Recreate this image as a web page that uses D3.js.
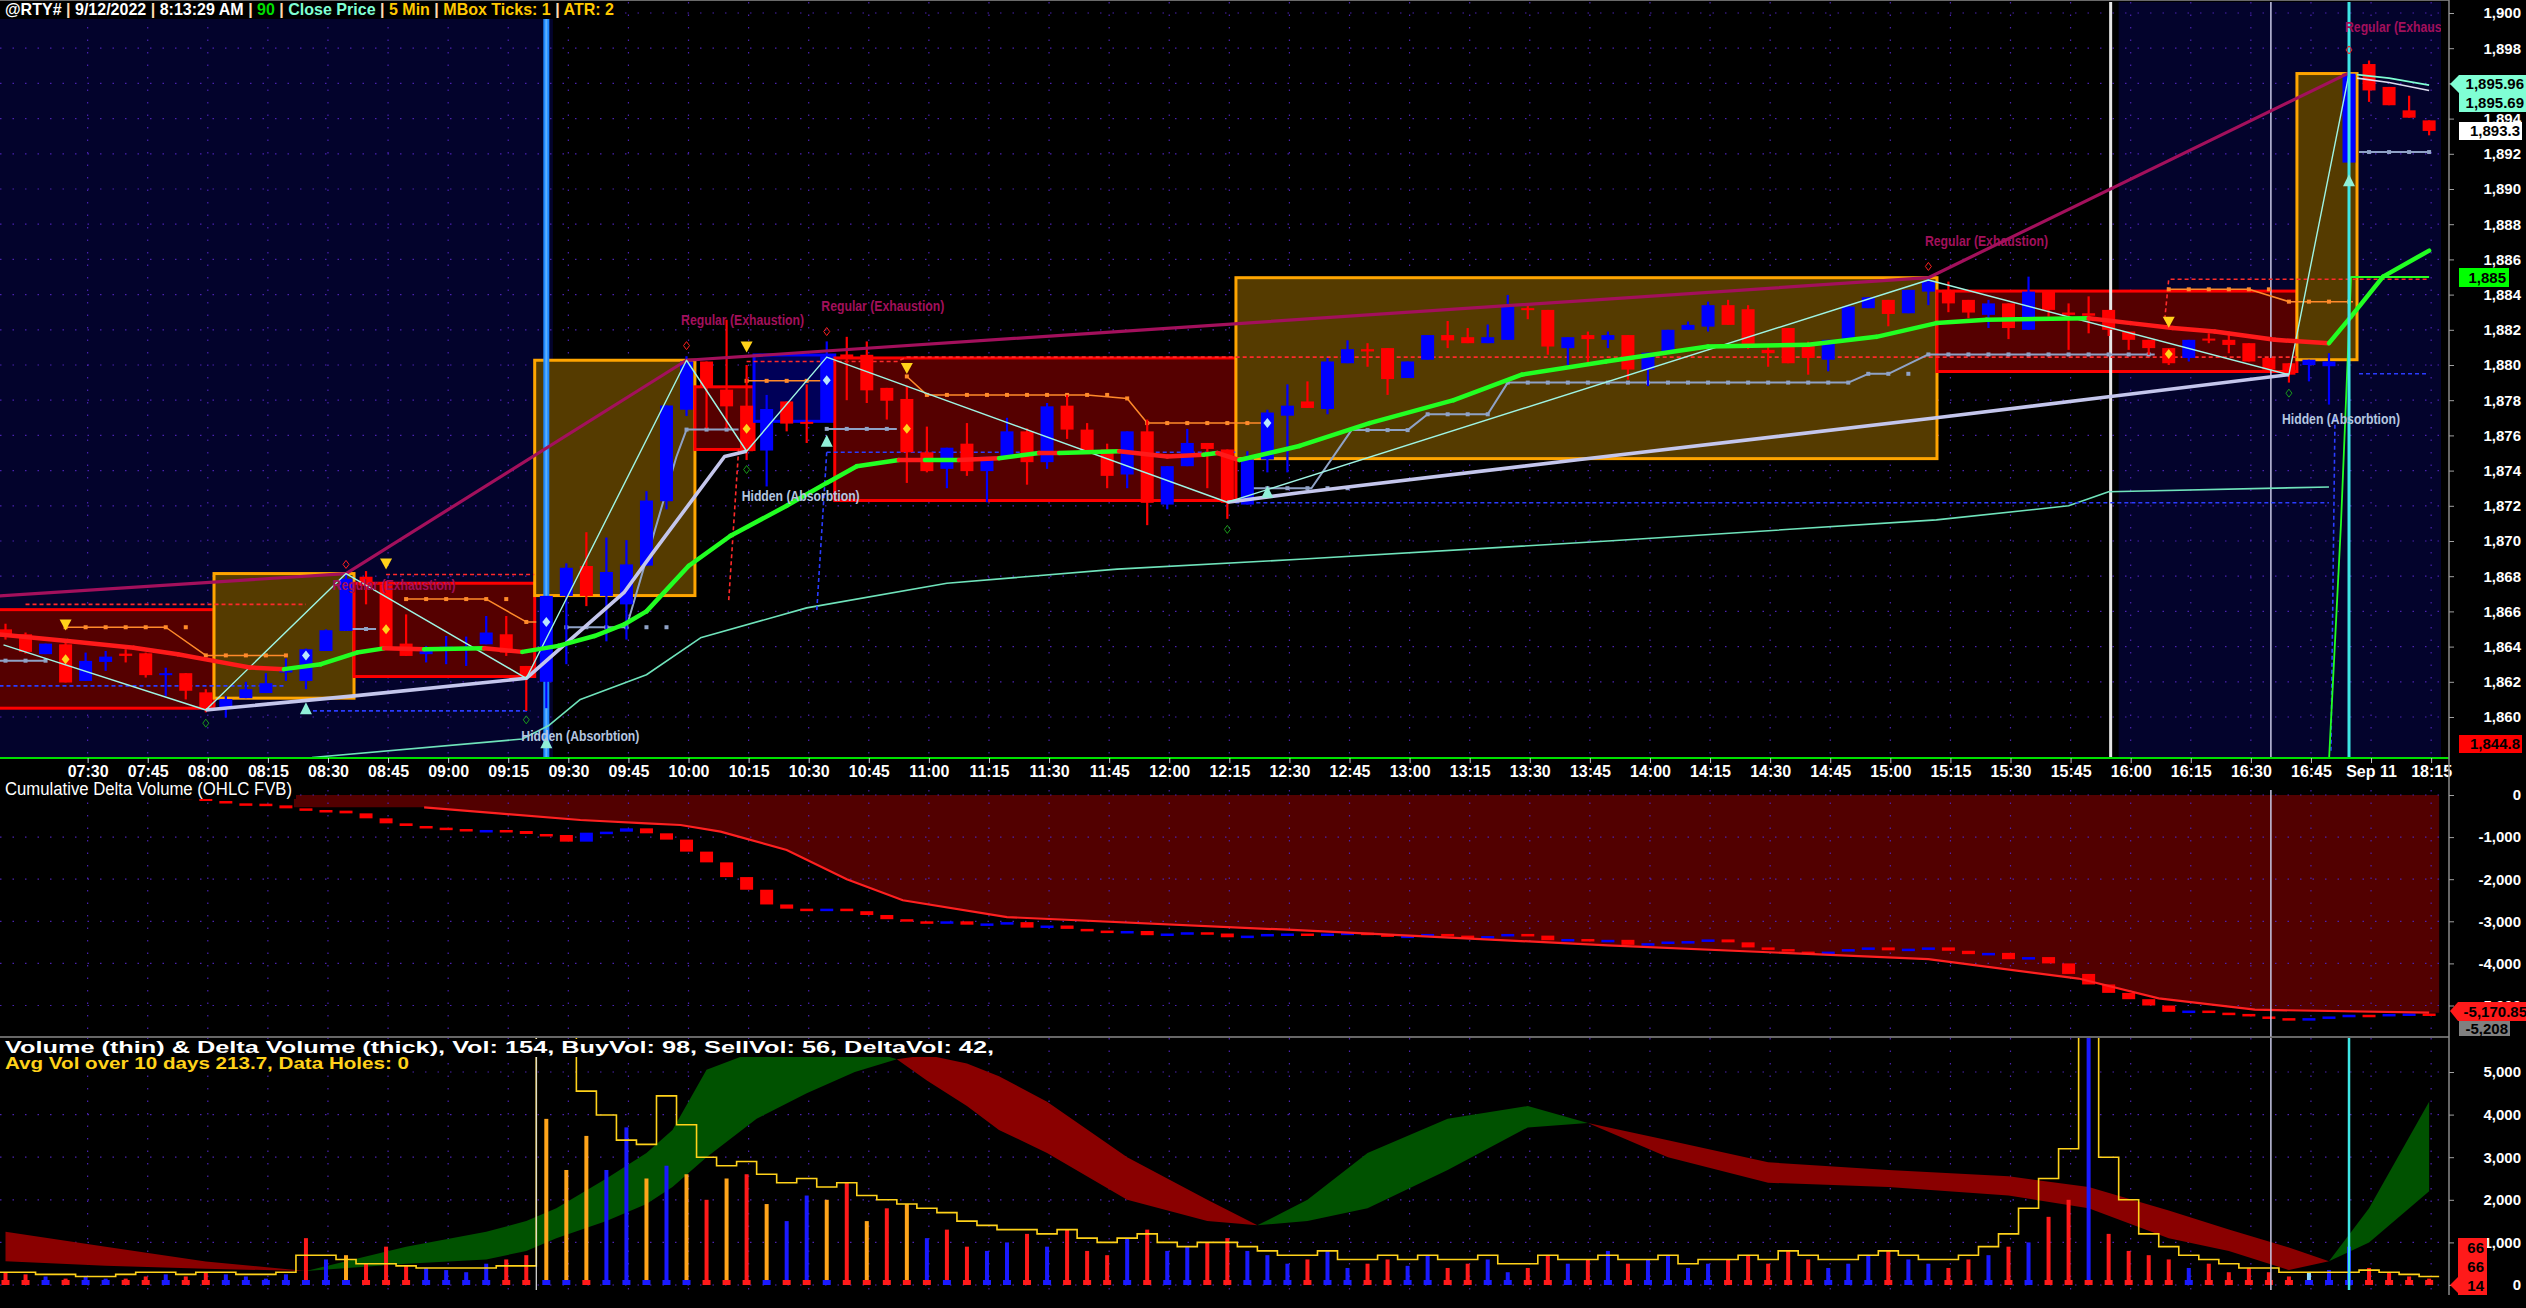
<!DOCTYPE html>
<html><head><meta charset="utf-8">
<script src="https://cdn.jsdelivr.net/npm/d3@7"></script>
<style>body{margin:0;background:#000;overflow:hidden}svg{display:block}</style>
</head><body>
<svg id="c" width="2526" height="1308"></svg>
<script>
// ---------------- DATA ----------------
const tickLabels = ["07:30","07:45","08:00","08:15","08:30","08:45","09:00","09:15","09:30","09:45","10:00","10:15","10:30","10:45","11:00","11:15","11:30","11:45","12:00","12:15","12:30","12:45","13:00","13:15","13:30","13:45","14:00","14:15","14:30","14:45","15:00","15:15","15:30","15:45","16:00","16:15","16:30","16:45","Sep 11","18:15"];
const tickIdx = [4,7,10,13,16,19,22,25,28,31,34,37,40,43,46,49,52,55,58,61,64,67,70,73,76,79,82,85,88,91,94,97,100,103,106,109,112,115,118,121];
const priceTicks = [1860,1862,1864,1866,1868,1870,1872,1874,1876,1878,1880,1882,1884,1886,1888,1890,1892,1894,1896,1898,1900];
const cdTicks = [0,-1000,-2000,-3000,-4000,-5000];
const volTicks = [0,1000,2000,3000,4000,5000];

const opens  = [1864.98,1864.7,1863.57,1864.13,1862.05,1863.13,1863.6,1863.62,1862.38,1862.49,1861.4,1860.54,1861.07,1861.36,1862.53,1862.05,1863.75,1864.89,1867.97,1867.53,1864.17,1863.57,1863.85,1863.85,1864.13,1864.7,1862.9,1862.0,1866.88,1868.58,1866.88,1866.4,1868.6,1872.26,1877.46,1880.2,1878.6,1877.69,1875.14,1877.93,1876.77,1876.8,1880.6,1880.58,1878.7,1878.07,1875.04,1874.1,1875.53,1873.97,1874.78,1876.23,1874.48,1877.69,1876.33,1875.2,1873.78,1876.23,1872.07,1874.25,1875.57,1875.2,1872.07,1874.63,1877.12,1877.93,1877.5,1880.1,1880.9,1880.96,1879.26,1880.3,1881.7,1881.58,1881.24,1881.43,1883.23,1883.13,1880.96,1881.7,1881.43,1881.7,1879.74,1880.67,1882.0,1882.18,1883.4,1883.17,1880.86,1882.1,1881.14,1880.3,1881.43,1883.23,1883.7,1882.94,1884.17,1884.27,1883.7,1882.85,1883.5,1882.0,1884.17,1882.98,1882.94,1883.13,1881.9,1881.43,1880.96,1880.4,1881.5,1881.43,1881.24,1880.4,1880.1,1880.0,1879.93,1891.5,1897.1,1895.8,1894.47,1893.9];
const highs  = [1865.3,1864.8,1864.17,1864.3,1863.66,1863.75,1863.85,1863.66,1862.8,1862.49,1861.58,1861.2,1862.0,1862.49,1863.32,1863.89,1864.98,1868.1,1868.29,1867.72,1865.83,1864.04,1864.6,1864.57,1865.74,1865.74,1862.9,1866.88,1868.73,1870.5,1870.2,1870.05,1872.83,1877.7,1880.5,1880.2,1882.57,1880.0,1878.3,1877.93,1878.9,1881.34,1881.6,1881.34,1878.7,1878.8,1876.5,1875.3,1876.7,1874.78,1877.0,1876.4,1877.84,1878.3,1876.7,1875.53,1876.23,1876.9,1874.25,1876.37,1875.57,1875.2,1875.1,1877.46,1878.9,1879.07,1880.4,1881.4,1881.24,1880.96,1880.2,1881.7,1882.5,1882.1,1882.3,1883.98,1883.5,1883.13,1881.58,1881.9,1881.9,1881.7,1880.7,1882.0,1882.47,1883.6,1883.7,1883.4,1881.14,1882.1,1881.33,1881.43,1883.32,1883.85,1883.7,1884.27,1885.02,1884.74,1883.7,1883.7,1883.5,1885.02,1884.17,1883.5,1883.9,1883.13,1881.9,1881.43,1880.96,1881.43,1881.8,1881.9,1881.24,1880.4,1880.1,1880.3,1880.67,1896.65,1897.3,1895.8,1895.3,1893.9];
const lows   = [1864.4,1863.6,1863.57,1861.96,1862.05,1862.62,1863.1,1862.24,1861.2,1861.0,1860.26,1859.97,1861.07,1861.36,1862.05,1861.58,1863.75,1864.89,1866.4,1863.85,1863.47,1863.1,1863.0,1862.9,1864.13,1863.47,1860.35,1860.5,1863.0,1866.3,1864.3,1864.4,1868.6,1871.8,1877.1,1876.4,1876.4,1874.6,1873.1,1876.23,1875.57,1876.8,1878.0,1877.84,1876.9,1873.3,1873.9,1873.0,1873.7,1872.2,1874.78,1873.2,1874.1,1875.8,1875.04,1873.0,1873.0,1870.9,1871.8,1874.25,1873.0,1871.26,1872.07,1873.9,1873.9,1877.56,1877.2,1880.1,1879.9,1878.3,1879.26,1880.3,1880.96,1881.24,1881.24,1881.43,1882.6,1880.58,1880.0,1880.0,1880.96,1879.17,1878.8,1880.67,1882.0,1881.9,1882.28,1880.9,1879.9,1880.1,1879.45,1879.64,1881.43,1883.23,1882.2,1882.94,1883.4,1883.0,1882.66,1882.1,1881.47,1882.0,1882.75,1880.86,1881.8,1881.65,1880.86,1880.58,1880.0,1880.2,1881.24,1880.67,1880.2,1879.74,1879.0,1879.07,1877.75,1891.5,1894.95,1894.76,1894.05,1893.05];
const closes = [1864.57,1863.7,1864.17,1861.96,1863.19,1863.43,1863.47,1862.38,1862.49,1861.49,1860.45,1861.02,1861.58,1861.92,1862.75,1863.85,1864.93,1867.86,1867.44,1863.94,1863.47,1863.75,1864.0,1864.0,1864.8,1863.66,1862.3,1866.88,1868.48,1866.88,1868.24,1868.67,1872.3,1877.7,1880.2,1878.75,1877.65,1875.1,1877.5,1876.67,1876.75,1880.5,1880.4,1878.56,1877.97,1875.04,1873.97,1875.3,1873.97,1874.78,1876.23,1874.48,1877.65,1876.33,1875.04,1873.7,1876.23,1872.17,1874.25,1875.57,1875.23,1872.17,1874.63,1877.3,1877.69,1877.56,1880.2,1880.9,1880.77,1879.2,1880.2,1881.7,1881.4,1881.24,1881.58,1883.4,1883.13,1881.05,1881.58,1881.47,1881.7,1879.74,1880.7,1882.0,1882.28,1883.4,1882.28,1881.05,1880.67,1880.1,1880.4,1881.43,1883.32,1883.85,1882.9,1884.27,1884.74,1883.5,1882.98,1883.5,1882.1,1884.17,1883.13,1882.85,1882.8,1882.0,1881.43,1880.96,1880.1,1881.43,1881.4,1881.14,1880.2,1879.74,1879.45,1880.3,1880.2,1896.55,1895.6,1894.76,1894.05,1893.3];

const boxLeft   = [-0.4,10.41,17.4,26.42,34.42,37.37,41.4,61.43,96.43,114.4];
const boxRight  = [10.41,17.4,26.42,34.42,37.37,41.4,61.43,96.43,114.4,117.4];
const boxTop    = [1866.1,1868.15,1867.6,1880.27,1878.76,1880.57,1880.4,1884.96,1884.2,1896.56];
const boxBottom = [1860.5,1861.07,1862.3,1866.9,1875.2,1876.8,1872.3,1874.68,1879.63,1880.3];
const boxKind   = ["r","o","r","o","r","b","r","o","r","o"];

const maLine = [[-0.4,1864.7,"r"],[3.1,1864.32,"r"],[6.4,1863.94,"r"],[8.6,1863.57,"r"],[10.4,1863.19,"r"],[12.2,1862.81,"r"],[13.9,1862.72,"g"],[15.75,1863.0,"g"],[17.55,1863.66,"g"],[18.9,1863.9,"r"],[20.9,1863.85,"g"],[23.9,1863.9,"r"],[25.8,1863.7,"g"],[27.6,1864.04,"g"],[29.4,1864.6,"g"],[30.9,1865.27,"g"],[32.0,1866.0,"g"],[34.1,1868.58,"g"],[36.2,1870.3,"g"],[39.0,1872.0,"g"],[41.0,1873.3,"g"],[42.5,1874.25,"g"],[44.6,1874.6,"r"],[45.9,1874.6,"g"],[47.6,1874.6,"r"],[49.6,1874.7,"g"],[51.6,1875.0,"r"],[52.6,1875.0,"g"],[55.6,1875.1,"r"],[58.0,1874.8,"r"],[59.8,1874.9,"g"],[60.5,1875.0,"r"],[61.6,1874.6,"g"],[64.6,1875.4,"g"],[68.1,1876.7,"g"],[72.3,1878.0,"g"],[75.7,1879.45,"g"],[79.9,1880.2,"g"],[85.0,1881.05,"g"],[90.0,1881.15,"g"],[93.4,1881.6,"g"],[96.4,1882.38,"g"],[98.9,1882.57,"g"],[104.0,1882.66,"r"],[106.1,1882.38,"r"],[108.2,1882.1,"r"],[110.3,1881.9,"r"],[113.3,1881.43,"r"],[116.0,1881.24,"g"],[117.1,1882.75,"g"],[118.7,1885.02,"g"],[121.0,1886.5,"g"]];
const purpleLine = [[-0.4,1866.87],[17,1868.15],[34,1880.27],[96,1884.96],[117,1896.6]];
const lavenderA = [[10,1860.4],[17.4,1861.2],[26,1862.2],[27.8,1864.0],[30.9,1867.1],[32.3,1869.3],[35.9,1874.8],[37,1875.1]];
const lavenderB = [[61,1872.2],[64.6,1872.74],[78.6,1874.63],[96.4,1877.0],[105,1878.2],[114,1879.45]];
const zigzag = [[-0.1,1864.1],[10,1860.4],[17,1868.15],[26,1862.2],[34,1880.27],[37,1875.1],[41,1880.45],[61,1872.2],[96,1884.83],[114,1879.45],[117,1896.55]];
const aquaLow = [[15.3,1857.7],[25.8,1858.75],[27.1,1859.5],[28.7,1861.0],[32,1862.4],[34.7,1864.5],[40,1866.2],[47,1867.6],[55.5,1868.4],[64.6,1868.96],[80,1870.0],[96.4,1871.2],[103,1872.0],[105,1872.8],[116,1873.07]];
const aquaTop = [[117.4,1896.5],[119,1896.3],[121,1895.9]];
const whiteTop = [[117.4,1896.3],[119,1896.05],[121,1895.6]];
const greenRight = [[116,1857.5],[116.6,1871],[117.1,1885.0],[121,1885.0]];
const orangeSteps = [
  [[3,1865.1],[8,1865.1],[10,1863.5],[14,1863.5]],
  [[20,1866.7],[24,1866.7],[26,1865.4],[26.5,1865.4]],
  [[37,1879.1],[41,1879.1]],
  [[45,1879.35],[46,1878.3],[54,1878.3],[56,1878.1],[57,1876.7],[63,1876.7]],
  [[108,1884.3],[112,1884.3],[114,1883.6],[117.2,1883.6]]
];
const greySteps = [
  [[-0.3,1863.2],[2,1863.2]],
  [[17,1865.0],[18.5,1865.0]],
  [[28,1865.1],[31,1865.1],[33.5,1874.8],[34,1876.33],[36.6,1876.33]],
  [[41,1876.37],[44.5,1876.37]],
  [[62.2,1873.0],[65.2,1873.0],[67.2,1876.3],[70,1876.3],[71,1877.2],[74,1877.2],[75,1879.0],[92,1879.0],[93,1879.5],[94,1879.5],[96,1880.6],[107.3,1880.6]],
  [[117.5,1892.1],[121,1892.1]]
];
const redDashed = [
  [[1,1866.4],[15,1866.4]],
  [[19,1868.1],[26.4,1868.1]],
  [[37,1880.2],[44.5,1880.2],[45,1880.45],[114.5,1880.45]],
  [[36.6,1875.2],[36.1,1866.5]],
  [[107.8,1882.6],[108,1884.87],[121,1884.87]]
];
const blueDashed = [
  [[-0.3,1861.77],[14,1861.77]],
  [[15,1860.35],[26.2,1860.35]],
  [[41,1875.04],[61.4,1875.04]],
  [[41,1875.04],[40.5,1866]],
  [[61.4,1872.17],[116,1872.17]],
  [[116.3,1877.0],[116.1,1858]],
  [[117.5,1879.5],[121,1879.5]]
];
const yellowDown = [[3,1865.2],[19,1868.67],[37,1881.0],[45,1879.77],[108,1882.4]];
const cyanUp = [[15,1860.5],[27,1858.56],[41,1875.7],[63,1872.8],[117,1890.5]];
const yellowDiamond = [[3,1863.28],[19,1864.98],[37,1876.38],[45,1876.38],[108,1880.62]];
const blueDiamond = [[15,1863.5],[27,1865.4],[41,1879.13],[63,1876.7]];
const redRing = [[17,1868.67],[34,1881.1],[41,1881.9],[96,1885.6],[117,1897.9]];
const greenRing = [[10,1859.65],[26,1859.84],[37,1874.06],[61,1870.66],[114,1878.4]];
const regularText = [[19.4,1867.5,"middle"],[36.8,1882.56,"middle"],[43.8,1883.35,"middle"],[98.9,1887.05,"middle"],[116.8,1899.2,"start"]];
const hiddenText = [[28.7,1858.94],[39.7,1872.56],[116.6,1876.93]];
const sessionShade = [[-0.4,27.33],[105.5,121.6]];

// cumulative delta closes (bars 4..121)
const cdClose = [null,null,null,null,-25,-35,-28,-45,-38,-60,
 -143,-198,-206,-246,-317,-356,-372,-436,-554,-673,
 -736,-776,-808,-831,-831,-855,-926,-950,-1108,-895,
 -871,-792,-910,-1060,-1345,-1600,-1950,-2250,-2600,-2700,
 -2750,-2700,-2760,-2850,-2950,-3000,-3050,-3000,-3080,-3050,
 -3020,-3150,-3100,-3180,-3220,-3280,-3230,-3330,-3290,-3260,
 -3290,-3380,-3340,-3300,-3290,-3320,-3290,-3270,-3300,-3370,
 -3340,-3300,-3340,-3380,-3350,-3300,-3340,-3450,-3420,-3470,
 -3440,-3560,-3520,-3480,-3470,-3430,-3500,-3620,-3660,-3720,
 -3760,-3720,-3660,-3620,-3690,-3650,-3620,-3700,-3780,-3750,
 -3900,-3850,-4000,-4250,-4500,-4700,-4850,-5000,-5150,-5120,
 -5170,-5200,-5260,-5300,-5350,-5300,-5260,-5220,-5230,-5200,
 -5190,-5208];
const cdFirstOpen = -10;
const cdMA = [[20.9,-293],[24.6,-435],[28.7,-594],[32,-673],[33.7,-713],[35.7,-871],[39,-1306],[42,-2000],[44.8,-2500],[50,-2900],[64,-3200],[80,-3570],[96,-3900],[103.5,-4360],[107.5,-4830],[112.3,-5100],[121,-5170.85]];
const cdFillStart = 14.4;

// volume panel
const volume = [300,250,200,150,200,150,150,200,250,200,
 300,250,200,150,250,1100,600,700,500,900,
 450,400,350,300,500,600,700,3900,2700,3500,
 2700,3700,2500,2800,2600,2000,2500,2600,1900,1500,
 2100,2000,2400,1500,1800,1900,1100,1300,900,800,
 1000,1200,900,1300,800,700,1100,1300,800,900,
 1000,1100,800,700,500,600,800,400,500,600,
 450,700,400,500,600,300,400,700,500,600,
 800,500,600,700,400,500,600,700,500,800,
 600,400,500,700,800,600,500,400,600,700,
 900,1000,1600,2000,5900,1200,800,700,600,400,
 500,300,400,300,200,300,350,900,400,300,
 200,150];
const volColor = ["r","r","b","r","b","b","r","r","b","r",
 "r","b","b","b","b","r","b","o","r","r",
 "r","b","b","b","b","r","r","o","o","o",
 "b","b","o","b","o","r","o","r","o","b",
 "b","o","r","o","r","o","b","r","r","b",
 "b","r","b","r","r","r","b","r","b","b",
 "r","r","b","b","b","r","b","b","r","r",
 "b","b","r","r","b","b","r","r","b","r",
 "b","r","b","b","b","b","r","r","r","r",
 "r","b","b","b","r","b","b","r","r","b",
 "r","b","r","r","b","r","r","r","r","b",
 "r","r","r","r","r","c","b","b","r","r",
 "r","r"];
const avgVol = [300,300,250,250,200,200,250,300,300,250,
 300,300,250,250,300,700,700,600,500,500,
 450,400,400,400,400,450,450,5900,5900,4550,
 3990,3400,3300,4440,3760,3000,2800,2900,2600,2400,
 2500,2300,2400,2100,2000,1900,1800,1700,1500,1400,
 1300,1300,1200,1300,1100,1000,1100,1200,1000,900,
 1000,1000,900,800,700,700,800,600,600,700,
 600,700,600,600,700,500,500,700,600,600,
 700,600,600,700,500,600,600,700,600,800,
 700,600,600,700,800,700,600,600,700,900,
 1200,1800,2500,3200,5900,3000,2000,1200,900,700,
 600,500,400,400,300,300,300,300,350,300,
 250,200];
const bandFast = [[0,560],[5,450],[10,380],[15,330],[20,900],[24,1250],[26,1500],[27.5,1800],[30,2500],[32,3100],[33.3,3640],[35,5050],[37.5,5500],[40,5650],[42.4,5600],[44.5,5300],[46,4800],[48,4200],[49.6,3640],[52,3100],[56,2000],[60,1500],[62.5,1400],[65,2000],[68,3100],[72,3900],[76,4200],[79,3800],[83,3000],[88,2400],[94,2300],[100,2100],[104,1800],[108,1100],[111,800],[114,350],[116,560],[118,1800],[121,4300]];
const bandSlow = [[0,1250],[5,900],[10,550],[15,330],[20,500],[24,600],[26,800],[27.5,1100],[30,1500],[32,1900],[33.3,2300],[35,3000],[37.5,3900],[40,4500],[42.4,5000],[44.5,5300],[46,5400],[48,5200],[49.6,4900],[52,4300],[56,3000],[60,2000],[62.5,1400],[65,1500],[68,1800],[72,2700],[76,3700],[79,3800],[83,3400],[88,2880],[94,2700],[100,2550],[104,2300],[108,1750],[111,1300],[114,880],[116,560],[118,1000],[121,2200]];

// ---------------- DRAW ----------------
const svg = d3.select('#c');
const NARROW = "'Liberation Sans Narrow','Arial Narrow','Liberation Sans',sans-serif";
const SANS = "'Liberation Sans',Arial,sans-serif";
const x = d3.scaleLinear().domain([0,121]).range([5.5, 5.5+121*20.03]);
const yP = d3.scaleLinear().domain([1858,1900]).range([752.2,13]);
const yC = d3.scaleLinear().domain([-5000,0]).range([1005.5,795]);
const yV = d3.scaleLinear().domain([0,5000]).range([1285,1072]);
const PR = 2441, AX = 2449;

svg.append('rect').attr('width',2526).attr('height',1308).attr('fill','#000');
const defs = svg.append('defs');
defs.append('clipPath').attr('id','cT').append('rect').attr('x',0).attr('y',2).attr('width',PR).attr('height',756);
defs.append('clipPath').attr('id','cM').append('rect').attr('x',0).attr('y',790).attr('width',PR).attr('height',247);
defs.append('clipPath').attr('id','cB').append('rect').attr('x',0).attr('y',1038).attr('width',PR).attr('height',252);

const gridCol = '#4a22b0';
function hgrid(g, vals, sc, y0, y1){
  vals.forEach(v=>g.append('line').attr('x1',0).attr('x2',PR).attr('y1',sc(v)).attr('y2',sc(v))
    .attr('stroke',gridCol).attr('stroke-width',1.2).attr('stroke-dasharray','1.5,11'));
  tickIdx.forEach(i=>g.append('line').attr('x1',x(i)+2).attr('x2',x(i)+2).attr('y1',y0).attr('y2',y1)
    .attr('stroke',gridCol).attr('stroke-width',1.2).attr('stroke-dasharray','1.5,11'));
}

// ===== TOP PANEL =====
const topG = svg.append('g').attr('clip-path','url(#cT)');
sessionShade.forEach(s=>topG.append('rect').attr('x',x(s[0])).attr('width',x(s[1])-x(s[0])).attr('y',2).attr('height',756).attr('fill','#03032c'));
hgrid(topG, priceTicks, yP, 2, 758);

const boxFill = {r:'#550000', o:'#553b00', b:'#000058'};
const boxStroke = {r:'#ff0000', o:'#ffa500', b:'#0000ff'};
boxLeft.forEach((l,k)=>{
  topG.append('rect').attr('x',x(l)).attr('y',yP(boxTop[k])).attr('width',x(boxRight[k])-x(l))
    .attr('height',yP(boxBottom[k])-yP(boxTop[k])).attr('fill',boxFill[boxKind[k]])
    .attr('stroke',boxStroke[boxKind[k]]).attr('stroke-width',3);
});

const vline = (g,i,col,w,y0,y1)=>g.append('line').attr('x1',x(i)).attr('x2',x(i)).attr('y1',y0).attr('y2',y1).attr('stroke',col).attr('stroke-width',w);
vline(topG,27,'#1e88ff',6,19,758);
vline(topG,27,'#5cb0ff',2,19,758);
vline(topG,105.1,'#e6e6e6',3,2,758);
vline(topG,113.1,'#c8c8e6',1.5,2,758);

const lp = d3.line().x(d=>x(d[0])).y(d=>yP(d[1]));
const path = (g,data,col,w,dash)=>g.append('path').attr('d',lp(data)).attr('fill','none').attr('stroke',col).attr('stroke-width',w).attr('stroke-dasharray',dash||null).attr('stroke-linejoin','round');

path(topG,aquaLow,'#6fe3bb',1.6);
redDashed.forEach(s=>path(topG,s,'#ff2a2a',1.6,'4,3'));
blueDashed.forEach(s=>path(topG,s,'#2a3cff',1.6,'4,3'));
function stepMarkers(s,col){
  for(let i=Math.ceil(s[0][0]); i<=Math.floor(s[s.length-1][0]); i++){
    let p = s[0][1]; s.forEach(q=>{ if(q[0]<=i+0.01) p=q[1]; });
    topG.append('rect').attr('x',x(i)-2).attr('y',yP(p)-2).attr('width',4).attr('height',4).attr('fill',col);
  }
}
orangeSteps.forEach(s=>{ path(topG,s,'#ff8a2a',1.5); stepMarkers(s,'#ff8a2a'); });
greySteps.forEach(s=>{ path(topG,s,'#8fa2c6',2); stepMarkers(s,'#8fa2c6'); });
path(topG,greenRight,'#22ff22',1.8);

const cg = topG.append('g');
opens.forEach((o,i)=>{
  const c = closes[i], col = c>=o ? '#0000ff' : '#ff0000';
  cg.append('line').attr('x1',x(i)).attr('x2',x(i)).attr('y1',yP(highs[i])).attr('y2',yP(lows[i])).attr('stroke',col).attr('stroke-width',2.2);
  const yt = yP(Math.max(o,c)), yb = yP(Math.min(o,c));
  cg.append('rect').attr('x',x(i)-6.5).attr('y',yt).attr('width',13).attr('height',Math.max(2,yb-yt)).attr('fill',col);
});

path(topG,purpleLine,'#a3105c',3.2);
path(topG,lavenderA,'#c4c6ec',3.6);
path(topG,lavenderB,'#c4c6ec',3.6);
path(topG,zigzag,'#9ff5e4',1.4);
path(topG,aquaTop,'#7fffd4',1.6);
path(topG,whiteTop,'#dcdcf0',1.6);
for(let k=0;k<maLine.length-1;k++){
  const a=maLine[k], b=maLine[k+1];
  topG.append('line').attr('x1',x(a[0])).attr('y1',yP(a[1])).attr('x2',x(b[0])).attr('y2',yP(b[1]))
    .attr('stroke',a[2]==='g'?'#22ff22':'#ff1a1a').attr('stroke-width',4.5).attr('stroke-linecap','round');
}
vline(topG,117,'#3ee6e6',3,2,758);

yellowDown.forEach(d=>topG.append('path').attr('d',`M${x(d[0])-6},${yP(d[1])-6}h12l-6,11z`).attr('fill','#ffd21a'));
cyanUp.forEach(d=>topG.append('path').attr('d',`M${x(d[0])-6},${yP(d[1])+6}h12l-6,-12z`).attr('fill','#8ff0d8'));
yellowDiamond.forEach(d=>topG.append('path').attr('d',`M${x(d[0])},${yP(d[1])-5}l4,5l-4,5l-4,-5z`).attr('fill','#ffd21a'));
blueDiamond.forEach(d=>topG.append('path').attr('d',`M${x(d[0])},${yP(d[1])-5}l4,5l-4,5l-4,-5z`).attr('fill','#b8e4ff'));
redRing.forEach(d=>topG.append('path').attr('d',`M${x(d[0])},${yP(d[1])-4}l3,4l-3,4l-3,-4z`).attr('fill','none').attr('stroke','#ff2020').attr('stroke-width',1));
greenRing.forEach(d=>topG.append('path').attr('d',`M${x(d[0])},${yP(d[1])-4}l3,4l-3,4l-3,-4z`).attr('fill','none').attr('stroke','#1a9a1a').attr('stroke-width',1));
regularText.forEach(d=>topG.append('text').attr('x',x(d[0])).attr('y',yP(d[1])+5).attr('text-anchor',d[2])
  .attr('font-family',NARROW).attr('font-weight','bold').attr('font-size',14).attr('fill','#a3105c')
  .attr('textLength',123).attr('lengthAdjust','spacingAndGlyphs').text('Regular (Exhaustion)'));
hiddenText.forEach(d=>topG.append('text').attr('x',x(d[0])).attr('y',yP(d[1])+5).attr('text-anchor','middle')
  .attr('font-family',NARROW).attr('font-weight','bold').attr('font-size',14).attr('fill','#b4c6e0')
  .attr('textLength',118).attr('lengthAdjust','spacingAndGlyphs').text('Hidden (Absorbtion)'));

svg.append('line').attr('x1',0).attr('x2',AX).attr('y1',758).attr('y2',758).attr('stroke','#00e000').attr('stroke-width',2);

svg.append('rect').attr('x',0).attr('y',0).attr('width',620).attr('height',19).attr('fill','#000');
const hdr = svg.append('text').attr('x',5).attr('y',15).attr('font-family',NARROW).attr('font-weight','bold').attr('font-size',17)
  .attr('textLength',609).attr('lengthAdjust','spacingAndGlyphs');
[["@RTY# ","#ffffff"],["| ","#ffd9b0"],["9/12/2022 ","#ffffff"],["| ","#ffd9b0"],["8:13:29 AM ","#ffffff"],["| ","#ffd9b0"],["90 ","#00dd00"],["| ","#ffd9b0"],["Close Price ","#7fffd4"],["| ","#ffd9b0"],["5 Min ","#ffc800"],["|  ","#ffd9b0"],["MBox Ticks: 1 ","#ffc800"],["|  ","#ffd9b0"],["ATR: 2","#ffc800"]]
  .forEach(s=>hdr.append('tspan').attr('fill',s[1]).text(s[0]));
svg.append('line').attr('x1',0).attr('x2',AX).attr('y1',0.5).attr('y2',0.5).attr('stroke','#6a6a6a');

const xa = svg.append('g').attr('transform','translate(2,758)').call(d3.axisBottom(x).tickValues(tickIdx).tickFormat((d,k)=>tickLabels[k]).tickSize(5).tickPadding(3));
xa.select('.domain').remove();
xa.selectAll('line').attr('stroke','#c8c8c8');
xa.selectAll('text').attr('fill','#ffffff').attr('font-family',SANS).attr('font-weight','bold').attr('font-size',16);

// ===== MIDDLE PANEL =====
const midG = svg.append('g').attr('clip-path','url(#cM)');
const lastMA = cdMA[cdMA.length-1];
const fillPts = [[cdFillStart,0],[cdFillStart,cdMA[0][1]]].concat(cdMA).concat([[lastMA[0]+0.5,lastMA[1]],[lastMA[0]+0.5,0]]);
midG.append('path').attr('d',d3.line().x(d=>x(d[0])).y(d=>yC(d[1]))(fillPts)+'Z').attr('fill','#520000');
hgrid(midG, cdTicks, yC, 790, 1037);
cdClose.forEach((c,i)=>{
  if(c===null) return;
  const o = (i>0 && cdClose[i-1]!==null) ? cdClose[i-1] : cdFirstOpen;
  const col = c>=o ? '#0000ff' : '#ff0000';
  const yt = yC(Math.max(o,c)), yb = yC(Math.min(o,c));
  midG.append('rect').attr('x',x(i)-6.5).attr('y',yt).attr('width',13).attr('height',Math.max(2.5,yb-yt)).attr('fill',col);
});
midG.append('path').attr('d',d3.line().x(d=>x(d[0])).y(d=>yC(d[1]))(cdMA)).attr('fill','none').attr('stroke','#ff2020').attr('stroke-width',2.2);
vline(midG,113.1,'#c8c8e6',1.5,790,1037);
svg.append('rect').attr('x',0).attr('y',778).attr('width',296).attr('height',21).attr('fill','#000');
svg.append('text').attr('x',5).attr('y',795).attr('fill','#fff').attr('font-family',NARROW).attr('font-size',18)
  .attr('textLength',287).attr('lengthAdjust','spacingAndGlyphs').text('Cumulative Delta Volume (OHLC FVB)');
svg.append('line').attr('x1',0).attr('x2',AX).attr('y1',1037).attr('y2',1037).attr('stroke','#8a8a8a').attr('stroke-width',1.5);

// ===== BOTTOM PANEL =====
const botG = svg.append('g').attr('clip-path','url(#cB)');
hgrid(botG, volTicks, yV, 1038, 1290);
function bandPieces(){
  const pts=[];
  for(let k=0;k<bandFast.length;k++){
    pts.push([bandFast[k][0],bandFast[k][1],bandSlow[k][1]]);
    if(k<bandFast.length-1){
      const d0=bandFast[k][1]-bandSlow[k][1], d1=bandFast[k+1][1]-bandSlow[k+1][1];
      if(d0*d1<0){const t=d0/(d0-d1); const xi=bandFast[k][0]+t*(bandFast[k+1][0]-bandFast[k][0]);
        const v=bandFast[k][1]+t*(bandFast[k+1][1]-bandFast[k][1]); pts.push([xi,v,v]);}
    }
  }
  return pts;
}
const bp = bandPieces();
const ar = (fn0,fn1)=>d3.area().x(d=>x(d[0])).y0(fn0).y1(fn1);
botG.append('path').attr('d',ar(d=>yV(d[2]),d=>yV(Math.max(d[1],d[2])))(bp)).attr('fill','#005200');
botG.append('path').attr('d',ar(d=>yV(d[1]),d=>yV(Math.max(d[1],d[2])))(bp)).attr('fill','#8a0000');
const vcol = {r:'#ff1a1a', b:'#1a1aff', o:'#ffa51a', c:'#8fd8ff'};
volume.forEach((v,i)=>{
  botG.append('rect').attr('x',x(i)-2).attr('y',yV(v)).attr('width',4).attr('height',yV(0)-yV(v)).attr('fill',vcol[volColor[i]]);
  botG.append('rect').attr('x',x(i)-4).attr('y',yV(0)-5).attr('width',8).attr('height',5).attr('fill',closes[i]>=opens[i]?'#1a1aff':'#ff1a1a');
});
botG.append('path').attr('d',d3.line().curve(d3.curveStepAfter).x((d,i)=>x(i)-10).y(d=>yV(d))(avgVol.concat([avgVol[avgVol.length-1]])))
  .attr('fill','none').attr('stroke','#ffd21a').attr('stroke-width',1.6);
vline(botG,26.5,'#e0e0e0',1.2,1038,1290);
vline(botG,113.1,'#c8c8e6',1.5,1038,1290);
vline(botG,117,'#3ee6e6',2.5,1038,1290);
svg.append('rect').attr('x',0).attr('y',1039).attr('width',1000).attr('height',18).attr('fill','#000');
svg.append('rect').attr('x',0).attr('y',1057).attr('width',412).attr('height',16).attr('fill','#000');
svg.append('text').attr('x',5).attr('y',1053).attr('fill','#fff').attr('font-family',NARROW).attr('font-weight','bold').attr('font-size',16)
  .attr('textLength',989).attr('lengthAdjust','spacingAndGlyphs').text('Volume (thin) & Delta Volume (thick), Vol: 154, BuyVol: 98, SellVol: 56, DeltaVol: 42,');
svg.append('text').attr('x',5).attr('y',1069).attr('fill','#ffd21a').attr('font-family',NARROW).attr('font-weight','bold').attr('font-size',16)
  .attr('textLength',404).attr('lengthAdjust','spacingAndGlyphs').text('Avg Vol over 10 days 213.7, Data Holes: 0');

// ===== RIGHT AXES =====
const fmt = d=>d.toLocaleString('en-US');
function rightAxis(sc, vals){
  const g = svg.append('g').attr('transform',`translate(${AX},0)`).call(d3.axisRight(sc).tickValues(vals).tickFormat(fmt).tickSize(5).tickPadding(0));
  g.select('.domain').remove();
  g.selectAll('line').attr('stroke','#a0a0a0');
  g.selectAll('text').attr('x',72).attr('text-anchor','end').attr('fill','#fff').attr('font-family',SANS).attr('font-weight','bold').attr('font-size',15);
}
svg.append('line').attr('x1',AX).attr('x2',AX).attr('y1',0).attr('y2',1295).attr('stroke','#8a8a8a').attr('stroke-width',1.5);
rightAxis(yP, priceTicks);
rightAxis(yC, cdTicks);
rightAxis(yV, volTicks);

const tagT = (tx,ty,t,anchor)=>svg.append('text').attr('x',tx).attr('y',ty).attr('text-anchor',anchor||'end').attr('fill','#000')
  .attr('font-family',SANS).attr('font-weight','bold').attr('font-size',15).text(t);
svg.append('path').attr('d','M2450,84L2459,75H2526V112H2459V93Z').attr('fill','#7fffd4');
tagT(2524,89,'1,895.96'); tagT(2524,108,'1,895.69');
svg.append('rect').attr('x',2459).attr('y',122).attr('width',63).attr('height',18).attr('fill','#fff'); tagT(2520,136,'1,893.3');
svg.append('rect').attr('x',2459).attr('y',268).attr('width',50).attr('height',19).attr('fill','#00ff00'); tagT(2506,283,'1,885');
svg.append('rect').attr('x',2459).attr('y',735).attr('width',63).attr('height',18).attr('fill','#ff0000'); tagT(2520,749,'1,844.8');
svg.append('path').attr('d','M2450,1011L2458,1002H2526V1021H2458Z').attr('fill','#ff1a1a');
tagT(2527,1017,'-5,170.85');
svg.append('rect').attr('x',2459).attr('y',1021).attr('width',51).attr('height',15).attr('fill','#808080'); tagT(2508,1034,'-5,208');
svg.append('path').attr('d','M2450,1285L2458,1277V1238H2487V1295H2458V1293Z').attr('fill','#ff1a1a');
tagT(2484,1253,'66'); tagT(2484,1272,'66'); tagT(2484,1291,'14');
</script>
</body></html>
